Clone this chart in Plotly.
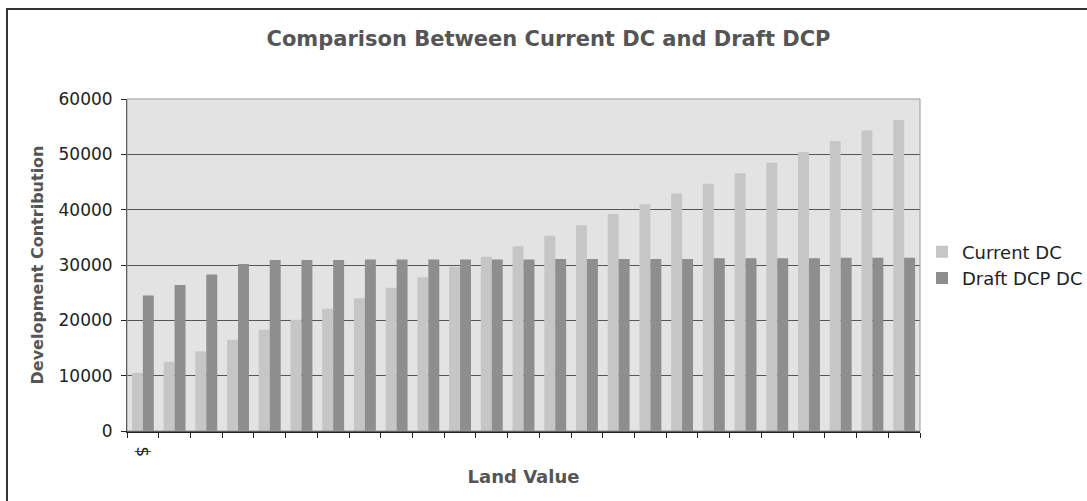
import plotly.graph_objects as go

categories = list(range(25))
x_labels = ["$"] + [""] * 24
current_dc = [10500, 12500, 14400, 16500, 18300, 20100, 22100, 24000, 25900, 27800,
              29700, 31500, 33400, 35300, 37200, 39200, 41000, 42900, 44700, 46600,
              48500, 50400, 52400, 54300, 56200]
draft_dcp_dc = [24500, 26400, 28300, 30200, 30900, 30900, 30900, 31000, 31000, 31000,
                31000, 31000, 31000, 31100, 31100, 31100, 31100, 31100, 31200, 31200,
                31200, 31200, 31300, 31300, 31300]
y_ticks = [0, 10000, 20000, 30000, 40000, 50000, 60000]
y_tick_labels = ["0", "10000", "20000", "30000", "40000", "50000", "60000"]

FONT = "DejaVu Sans"

fig = go.Figure()
fig.add_trace(go.Bar(x=[str(c) for c in categories], y=current_dc, name="Current DC",
                     marker=dict(color="#c6c6c6", line=dict(width=0))))
fig.add_trace(go.Bar(x=[str(c) for c in categories], y=draft_dcp_dc, name="Draft DCP DC",
                     marker=dict(color="#8e8e8e", line=dict(width=0))))

fig.update_layout(
    width=1087, height=501,
    margin=dict(l=127, r=167, t=99, b=70, autoexpand=False),
    paper_bgcolor="white",
    plot_bgcolor="#e3e3e3",
    barmode="group",
    bargap=0.31,
    bargroupgap=0,
    font=dict(family=FONT, color="#222"),
    title=dict(text="<b>Comparison Between Current DC and Draft DCP</b>",
               x=548.5 / 1087, xref="container", xanchor="center",
               y=1 - 39 / 501, yanchor="middle",
               font=dict(family=FONT, size=21, color="#555")),
    legend=dict(x=(922 - 127) / 793, xanchor="left", y=(431 - 265) / 332, yanchor="middle",
                font=dict(family=FONT, size=18, color="#222"),
                bgcolor="rgba(0,0,0,0)", itemwidth=30, tracegroupgap=0),
    showlegend=True,
)

fig.update_xaxes(
    type="category",
    tickmode="array",
    tickvals=[str(c) for c in categories],
    ticktext=x_labels,
    tickson="boundaries",
    ticks="outside", ticklen=5, tickcolor="#222", tickwidth=1,
    tickangle=90,
    ticklabelstandoff=10,
    tickfont=dict(family=FONT, size=17, color="#222"),
    showline=True, linecolor="#222", linewidth=1.5, mirror=False,
    showgrid=False,
    title=dict(text="<b>Land Value</b>", font=dict(family=FONT, size=18, color="#555"),
               standoff=14),
)
fig.update_yaxes(
    range=[0, 60000],
    tickmode="array", tickvals=y_ticks, ticktext=y_tick_labels,
    ticks="outside", ticklen=5, tickcolor="#222",
    ticklabelstandoff=5,
    tickfont=dict(family=FONT, size=17, color="#222"),
    showline=True, linecolor="#222", linewidth=1,
    showgrid=True, gridcolor="#555", gridwidth=1,
    zeroline=False,
    title=dict(text="<b>Development Contribution</b>",
               font=dict(family=FONT, size=16, color="#555"), standoff=10),
)

# outer frame of the chart area
fig.add_shape(type="rect", xref="paper", yref="paper",
              x0=(7 - 127) / 793, x1=(1100 - 127) / 793,
              y0=(431 - 520) / 332, y1=(431 - 9) / 332,
              line=dict(color="#333", width=2), fillcolor="rgba(0,0,0,0)", layer="below")
# plot area top/right border
fig.add_shape(type="rect", xref="paper", yref="paper", x0=0, x1=1, y0=0, y1=1,
              line=dict(color="#999", width=1), fillcolor="rgba(0,0,0,0)")

fig.write_html("out.html")
